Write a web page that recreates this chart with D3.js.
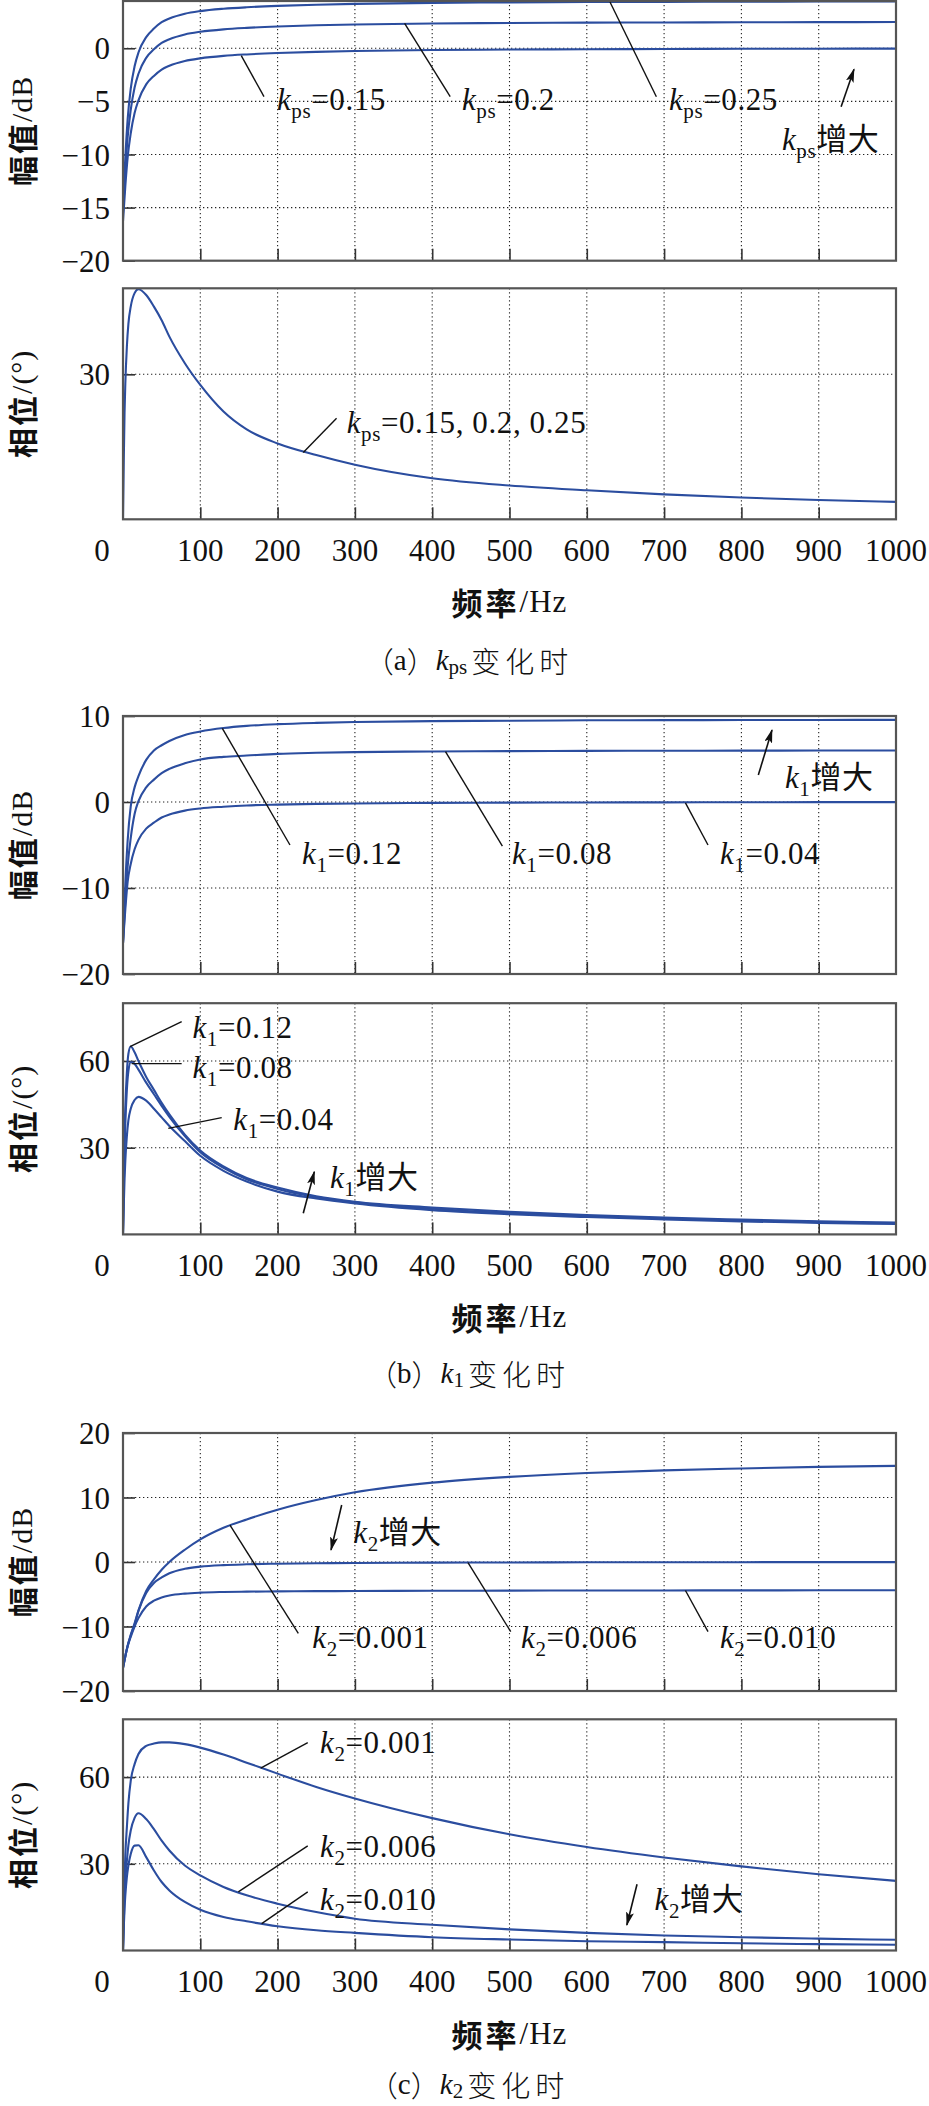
<!DOCTYPE html>
<html><head><meta charset="utf-8">
<script src="https://cdn.jsdelivr.net/npm/d3@7"></script>
<style>
body{margin:0;background:#fff;}
svg{display:block;background:#fff;}
text{font-family:"Liberation Serif","Noto Sans CJK SC",serif;fill:#111;}
</style></head><body>
<svg id="chart" width="929" height="2106"></svg>
<script>
// ---------- data ----------
const X_TICKS = [0,100,200,300,400,500,600,700,800,900,1000];
const FREQ_MAG = [0,3,6,10,15,20,30,40,50,60,80,100,130,160,200,250,300,400,500,600,700,800,900,1000];
const FREQ_PH  = [0,1,2,3,5,7,10,15,20,30,40,50,60,80,100,130,160,200,250,300,400,500,600,700,800,900,1000];

// (a) kps
const magKps015 = [-16.3,-13.0,-10.3,-8.0,-6.1,-4.9,-3.4,-2.6,-2.0,-1.65,-1.2,-0.95,-0.72,-0.58,-0.45,-0.34,-0.26,-0.17,-0.12,-0.09,-0.07,-0.05,-0.04,-0.03];
const magKps020 = [-15.5,-11.6,-8.4,-5.8,-3.7,-2.4,-0.9,-0.1,0.5,0.85,1.3,1.55,1.78,1.92,2.05,2.16,2.24,2.33,2.38,2.41,2.43,2.45,2.46,2.47];
const magKps025 = [-14.8,-10.3,-6.7,-3.8,-1.7,-0.4,1.05,1.85,2.45,2.8,3.25,3.5,3.72,3.86,3.99,4.1,4.18,4.27,4.32,4.35,4.37,4.39,4.4,4.41];
const phKps     = [0,12,22,28,35.7,40.5,44,46.8,47.6,46.4,44,41.2,37.8,32.3,27.8,22.3,18.6,15.7,13.3,11.3,8.5,7.0,6.0,5.15,4.5,4.0,3.6];

// (b) k1
const magK1_012 = [-16.4,-9.5,-4.5,-0.5,1.7,3.0,4.9,6.0,6.6,7.1,7.8,8.2,8.6,8.85,9.05,9.2,9.3,9.4,9.45,9.5,9.52,9.53,9.54,9.55];
const magK1_008 = [-16.4,-11.5,-7.5,-4.2,-1.4,0.1,1.7,2.6,3.35,3.85,4.5,4.95,5.25,5.4,5.6,5.72,5.8,5.87,5.91,5.94,5.96,5.97,5.98,5.99];
const magK1_004 = [-16.4,-12.5,-9.3,-7.2,-5.5,-4.4,-3.1,-2.4,-1.8,-1.45,-1.0,-0.75,-0.55,-0.4,-0.3,-0.22,-0.17,-0.1,-0.07,-0.05,-0.04,-0.03,-0.02,-0.02];
const phK1_012  = [0,20,35,44,56,62.5,65,63,60,54.5,50,45.5,41.5,34.5,29,23.5,19.5,16.2,13.2,11.3,9.3,7.8,6.7,5.8,5.1,4.5,4.1];
const phK1_008  = [0,16,29,38,50,56.5,59.6,59,57,52.5,48.5,44.5,40.7,34,28.4,23,19.1,15.7,12.9,11.0,8.9,7.4,6.3,5.5,4.8,4.3,3.9];
const phK1_004  = [0,10,19,25.5,34,39.5,43.5,46.5,47.6,46.3,43.5,40.5,37.5,32.3,27.2,22,18.3,14.8,12.4,10.7,8.4,7.0,6.0,5.2,4.5,4.0,3.6];

// (c) k2
const magK2_0001 = [-16.4,-14.6,-13.0,-11.3,-9.5,-7.5,-4.5,-2.7,-1.2,0.0,1.9,3.5,5.3,6.6,8.1,9.6,10.8,12.3,13.2,13.8,14.2,14.5,14.75,14.9];
const magK2_0006 = [-16.4,-14.6,-13.0,-11.4,-9.7,-7.6,-4.8,-3.25,-2.4,-1.75,-1.05,-0.72,-0.48,-0.36,-0.26,-0.19,-0.15,-0.1,-0.07,-0.05,-0.04,-0.03,-0.02,-0.02];
const magK2_0010 = [-16.4,-14.6,-13.1,-11.6,-10.0,-8.7,-6.9,-6.0,-5.5,-5.2,-4.9,-4.75,-4.65,-4.6,-4.55,-4.52,-4.5,-4.46,-4.44,-4.42,-4.41,-4.4,-4.39,-4.38];
const phK2_0001  = [0,14,25,33,42.6,51,58.7,64.5,68,70.8,71.6,72,72,71.4,70.2,67.8,65.0,61.2,56.6,52.6,45.8,40.2,35.8,32.2,29.1,26.4,24.1];
const phK2_0006  = [0,10,18,24,31,36.5,41.5,45.9,47.5,45.5,42,38,34.6,29.4,26,22,19.1,16.2,13.3,11,8.9,7.3,6.1,5.2,4.6,4.1,3.7];
const phK2_0010  = [0,8,14.5,19,25.4,29.5,33.4,36.3,36.4,32.3,27.7,23.7,20.8,16.8,14.1,11.6,10.1,8.4,7.0,6.1,4.6,3.8,3.2,2.9,2.5,2.2,2.0];

// ---------- drawing ----------
const svg = d3.select("#chart");
const LEFT = 123, RIGHT = 896;
const x = d3.scaleLinear().domain([0,1000]).range([LEFT, RIGHT]);
const BLUE = "#2b4d9f";
const FS = 31, SUB = 21;
const fmt = d => d < 0 ? "\u2212" + (-d) : String(d);

const defs = svg.append("defs");
defs.append("marker").attr("id","arr").attr("viewBox","0 0 14 8")
  .attr("refX",13).attr("refY",4).attr("markerWidth",14).attr("markerHeight",8)
  .attr("markerUnits","userSpaceOnUse").attr("orient","auto")
  .append("path").attr("d","M0,0 L14,4 L0,8 L3,4 Z").attr("fill","#111");

let clipId = 0;
function panel(opt){
  const y = d3.scaleLinear().domain(opt.domain).range([opt.bottom, opt.top]);
  const g = svg.append("g");
  const id = "clip"+(clipId++);
  defs.append("clipPath").attr("id",id).append("rect")
    .attr("x",LEFT).attr("y",opt.top).attr("width",RIGHT-LEFT).attr("height",opt.bottom-opt.top);
  // grid
  const grid = g.append("g").attr("stroke","#222").attr("stroke-width",1.1).attr("stroke-dasharray","1.3 2.7");
  grid.selectAll("line.v").data(X_TICKS.slice(1,-1)).join("line")
    .attr("x1",d=>x(d)).attr("x2",d=>x(d)).attr("y1",opt.top).attr("y2",opt.bottom);
  grid.selectAll("line.h").data(opt.gridY).join("line")
    .attr("x1",LEFT).attr("x2",RIGHT).attr("y1",d=>y(d)).attr("y2",d=>y(d));
  // ticks inside
  const ax = g.append("g").attr("transform",`translate(0,${opt.bottom})`)
    .call(d3.axisBottom(x).tickValues(X_TICKS.slice(1,-1)).tickSize(-12).tickFormat(""));
  ax.select(".domain").remove();
  ax.selectAll("line").attr("stroke","#333").attr("stroke-width",1.6);
  const ay = g.append("g").attr("transform",`translate(${LEFT},0)`)
    .call(d3.axisLeft(y).tickValues(opt.yTicks).tickSize(-12).tickPadding(13).tickFormat(fmt));
  ay.select(".domain").remove();
  ay.selectAll("line").attr("stroke","#333").attr("stroke-width",1.6);
  ay.selectAll("text").attr("font-size",FS).attr("font-family","Liberation Serif").attr("fill","#111").attr("dy","0.34em");
  // curves
  const line = d3.line().x(d=>x(d[0])).y(d=>y(d[1])).curve(d3.curveMonotoneX);
  g.append("g").attr("clip-path",`url(#${id})`).selectAll("path").data(opt.series).join("path")
    .attr("d",s=>line(s.f.map((f,i)=>[f,s.v[i]])))
    .attr("fill","none").attr("stroke",BLUE).attr("stroke-width",2.1).attr("stroke-linejoin","round");
  // frame
  g.append("rect").attr("x",LEFT).attr("y",opt.top).attr("width",RIGHT-LEFT).attr("height",opt.bottom-opt.top)
    .attr("fill","none").attr("stroke","#555").attr("stroke-width",2.2);
  // y title
  const cy = (opt.top+opt.bottom)/2;
  const t = g.append("text").attr("transform",`translate(21,${cy}) rotate(-90)`)
    .attr("text-anchor","middle").attr("dominant-baseline","central").attr("font-size",30);
  t.append("tspan").attr("font-family","Noto Sans CJK SC").attr("font-weight",700).attr("letter-spacing",2).text(opt.ytitle[0]);
  t.append("tspan").attr("letter-spacing",1).text(opt.ytitle[1]);
  return {g,y};
}

function kLabel(g, px, py, sub, rest, fs){
  fs = fs||FS;
  const t = g.append("text").attr("x",px).attr("y",py).attr("font-size",fs).attr("letter-spacing",0.6);
  t.append("tspan").attr("font-style","italic").text("k");
  t.append("tspan").attr("font-size",SUB).attr("dy",8).text(sub);
  t.append("tspan").attr("dy",-8).text(rest);
  return t;
}
function leader(g, x1,y1,x2,y2){
  g.append("line").attr("x1",x1).attr("y1",y1).attr("x2",x2).attr("y2",y2)
    .attr("stroke","#111").attr("stroke-width",1.4);
}
function arrow(g, x1,y1,x2,y2){
  g.append("line").attr("x1",x1).attr("y1",y1).attr("x2",x2).attr("y2",y2)
    .attr("stroke","#111").attr("stroke-width",1.6).attr("marker-end","url(#arr)");
}
function xLabels(bottom){
  svg.append("g").selectAll("text").data(X_TICKS).join("text")
    .attr("x",d=>x(d)+(d===0?-21:0)).attr("y",bottom+31).attr("text-anchor","middle")
    .attr("dominant-baseline","central").attr("font-size",FS).text(d=>d);
  const t = svg.append("text").attr("x",(LEFT+RIGHT)/2).attr("y",bottom+82).attr("text-anchor","middle")
    .attr("dominant-baseline","central").attr("font-size",31);
  t.append("tspan").attr("font-family","Noto Sans CJK SC").attr("font-weight",700).attr("letter-spacing",3).text("频率");
  t.append("tspan").attr("letter-spacing",1).text("/Hz");
}
function caption(cy, letter, sub){
  const t = svg.append("text").attr("x",469).attr("y",cy).attr("text-anchor","middle")
    .attr("dominant-baseline","central").attr("font-size",29);
  t.append("tspan").attr("font-family","Noto Sans CJK SC").attr("font-weight",300).text("（");
  t.append("tspan").text(letter);
  t.append("tspan").attr("font-family","Noto Sans CJK SC").attr("font-weight",300).text("）");
  t.append("tspan").attr("font-style","italic").text("k");
  t.append("tspan").attr("font-size",21).attr("dy",7).text(sub);
  t.append("tspan").attr("dy",-7).attr("font-family","Noto Sans CJK SC").attr("font-weight",300)
    .attr("letter-spacing",5).attr("dx",4).text("变化时");
}
const MAGT = ["幅值","/dB"], PHT = ["相位","/(°)"];

// ===== (a) =====
{
  const p = panel({top:1,bottom:260.7,domain:[-20,4.45],yTicks:[0,-5,-10,-15,-20],gridY:[0,-5,-10,-15],ytitle:MAGT,
    series:[{f:FREQ_MAG,v:magKps015},{f:FREQ_MAG,v:magKps020},{f:FREQ_MAG,v:magKps025}]});
  const y=p.y, g=p.g;
  leader(g,x(153),y(-0.7),x(182.4),y(-4.56)); kLabel(g,x(199.2),y(-5.81),"ps","=0.15");
  leader(g,x(364.3),y(2.35),x(423.3),y(-4.56)); kLabel(g,x(438.5),y(-5.81),"ps","=0.2");
  leader(g,x(630),y(4.35),x(690),y(-4.56)); kLabel(g,x(706.3),y(-5.81),"ps","=0.25");
  arrow(g,x(929),y(-5.5),x(945.7),y(-1.98)); kLabel(g,x(852.5),y(-9.58),"ps","增大");
}
{
  const p = panel({top:288.3,bottom:519.3,domain:[0,47.8],yTicks:[30],gridY:[30],ytitle:PHT,
    series:[{f:FREQ_PH,v:phKps}]});
  const y=p.y, g=p.g;
  leader(g,x(233.2),y(13.8),x(276.3),y(20.9)); kLabel(g,x(289.4),y(17.86),"ps","=0.15, 0.2, 0.25");
  xLabels(519.3); caption(660,"a","ps");
}
// ===== (b) =====
{
  const p = panel({top:716,bottom:974,domain:[-20,10],yTicks:[10,0,-10,-20],gridY:[0,-10],ytitle:MAGT,
    series:[{f:FREQ_MAG,v:magK1_012},{f:FREQ_MAG,v:magK1_008},{f:FREQ_MAG,v:magK1_004}]});
  const y=p.y, g=p.g;
  leader(g,x(128.5),y(8.57),x(216),y(-5.0)); kLabel(g,x(231.6),y(-7.2),"1","=0.12");
  leader(g,x(417.2),y(5.85),x(490.8),y(-5.12)); kLabel(g,x(503.2),y(-7.2),"1","=0.08");
  leader(g,x(727.6),y(-0.1),x(756.8),y(-5.0)); kLabel(g,x(772.3),y(-7.2),"1","=0.04");
  arrow(g,x(821.9),y(3.14),x(839.6),y(8.37)); kLabel(g,x(856.4),y(1.63),"1","增大");
}
{
  const p = panel({top:1003.2,bottom:1234.4,domain:[0,80],yTicks:[60,30],gridY:[60,30],ytitle:PHT,
    series:[{f:FREQ_PH,v:phK1_012},{f:FREQ_PH,v:phK1_008},{f:FREQ_PH,v:phK1_004}]});
  const y=p.y, g=p.g;
  leader(g,x(9.1),y(64.95),x(75.9),y(73.6)); kLabel(g,x(89.9),y(67.96),"1","=0.12");
  leader(g,x(11.3),y(59.1),x(75.9),y(59.1)); kLabel(g,x(89.9),y(54.0),"1","=0.08");
  leader(g,x(58.6),y(36.7),x(127.7),y(40.4)); kLabel(g,x(142.7),y(36.1),"1","=0.04");
  arrow(g,x(233.2),y(7.3),x(247.5),y(21.7)); kLabel(g,x(267.8),y(16.06),"1","增大");
  xLabels(1234.4); caption(1373.3,"b","1");
}
// ===== (c) =====
{
  const p = panel({top:1433,bottom:1691,domain:[-20,20],yTicks:[20,10,0,-10,-20],gridY:[10,0,-10],ytitle:MAGT,
    series:[{f:FREQ_MAG,v:magK2_0001},{f:FREQ_MAG,v:magK2_0006},{f:FREQ_MAG,v:magK2_0010}]});
  const y=p.y, g=p.g;
  arrow(g,x(282.9),y(8.84),x(269.1),y(1.86)); kLabel(g,x(297.9),y(2.95),"2","增大");
  leader(g,x(138.4),y(5.7),x(226.8),y(-11.05)); kLabel(g,x(244.9),y(-13.3),"2","=0.001");
  leader(g,x(446.3),y(-0.1),x(501.6),y(-10.8)); kLabel(g,x(514.9),y(-13.3),"2","=0.006");
  leader(g,x(727.6),y(-4.42),x(756.8),y(-10.8)); kLabel(g,x(772.3),y(-13.3),"2","=0.010");
}
{
  const p = panel({top:1719.3,bottom:1950.5,domain:[0,80],yTicks:[60,30],gridY:[60,30],ytitle:PHT,
    series:[{f:FREQ_PH,v:phK2_0001},{f:FREQ_PH,v:phK2_0006},{f:FREQ_PH,v:phK2_0010}]});
  const y=p.y, g=p.g;
  leader(g,x(178.1),y(63.1),x(239),y(71.9)); kLabel(g,x(254.9),y(68.3),"2","=0.001");
  leader(g,x(149.2),y(20.3),x(239),y(36.2)); kLabel(g,x(254.9),y(32.5),"2","=0.006");
  leader(g,x(179.4),y(9.3),x(239),y(20.3)); kLabel(g,x(254.9),y(14.0),"2","=0.010");
  arrow(g,x(665),y(22.9),x(651.8),y(8.8)); kLabel(g,x(687.7),y(14.0),"2","增大");
  xLabels(1950.5); caption(2084,"c","2");
}
</script></body></html>
